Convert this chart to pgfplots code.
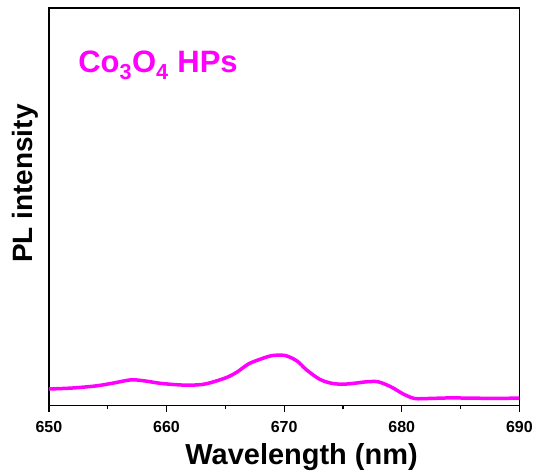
\documentclass[border=0pt]{standalone}
\usepackage{pgfplots}
\pgfplotsset{compat=1.18}
\usepackage{fontspec}
\setmainfont{Liberation Sans}
\definecolor{pl}{RGB}{255,0,255}
\begin{document}
\begin{tikzpicture}
\begin{axis}[
  scale only axis,
  width=471pt, height=398pt,
  xmin=650, xmax=690, ymin=0, ymax=398,
  axis line style={line width=1.3pt},
  xtick={650,660,...,690},
  minor xtick={655,665,675,685},
  ytick=\empty,
  xtick pos=bottom,
  tick align=outside,
  major tick length=7pt, minor tick length=4pt,
  every tick/.style={line width=1.2pt, black},
  xticklabel={\bfseries\pgfmathprintnumber[assume math mode=true,1000 sep={}]{\tick}},
  xticklabel style={font=\fontsize{16}{16}\selectfont\bfseries, yshift=-5pt},
  xlabel={Wavelength (nm)},
  xlabel style={font=\fontsize{29}{29}\selectfont\bfseries, at={(axis description cs:0.537,-0.131)}, anchor=center},
  ylabel={PL intensity},
  ylabel style={font=\fontsize{28}{28}\selectfont\bfseries, at={(axis description cs:-0.051,0.558)}, anchor=center},
  clip=false,
]
\addplot[pl, line width=3.5pt, smooth, tension=0.5] coordinates {
(650,16.5) (652,17.5) (654,19.6) (655.5,22.5) (657,25.7) (658.2,24.5) (659.4,22.3) (660.6,21) (661.8,20.3) (663,21) (663.8,23) (665.1,28) (666,33.5) (667,41.8) (668.2,47.3) (669,50) (670.1,50) (671.1,44.5) (671.9,35.7) (673,26.4) (674,22.3) (675,21.3) (676,22.3) (677,23.7) (678,23.7) (679.1,18.6) (680.1,11.7) (681.1,7) (682.5,7.1) (684.2,7.6) (686,7.3) (688,7.2) (690,7.3)
};
\node[anchor=base west, text=pl, font=\fontsize{31}{31}\selectfont\bfseries] at (axis cs:652.2,333) {Co\textsubscript{3}O\textsubscript{4} HPs};
\path (rel axis cs:0,0) ++(-49pt,-69pt) rectangle ++(536pt,475pt);
\end{axis}
\end{tikzpicture}
\end{document}
